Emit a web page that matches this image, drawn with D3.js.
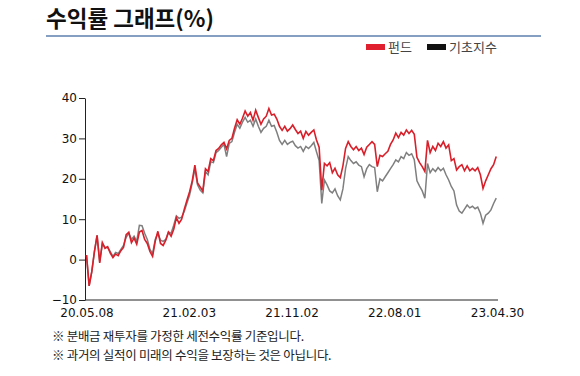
<!DOCTYPE html>
<html>
<head>
<meta charset="utf-8">
<script src="https://cdn.jsdelivr.net/npm/d3@7"></script>
<style>
  body { margin: 0; background: #fff; }
  text { font-family: "Noto Sans CJK KR", "Noto Sans", sans-serif; }
  .axis text { font-family: "DejaVu Sans", sans-serif; font-size: 12px; fill: #111; }
  .axis path, .axis line { stroke: #222; }
</style>
</head>
<body>
<script>
// 기준일 (주 단위 데이터)
var startDate = "2020-05-08";
var tickDates = ["2020-05-08", "2021-02-03", "2021-11-02", "2022-08-01", "2023-04-30"];
var yTicks = [-10, 0, 10, 20, 30, 40];

// 펀드 수익률 (%)
var fund = [
  1.1, -6.5, -3, 2, 6, -0.8, 4.2, 2.8, 3.2, 1.6,
  0.5, 1.4, 1.0, 2.2, 3.0, 6.2, 6.8, 4.2, 5.3, 3.8,
  6.8, 7.2, 5.0, 4.0, 2.0, 0.8, 4.5, 7.0, 4.0, 3.5,
  4.8, 6.8, 5.8, 7.5, 10.4, 9.0, 10.0, 12.5, 14.7, 16.8,
  19.5, 23.4, 19.0, 18.0, 17.0, 22.5, 21.8, 25.0, 24.5, 27.0,
  27.5, 28.4, 29.0, 27.4, 29.5, 30.0, 32.5, 34.6, 33.5, 35.0,
  36.8, 35.5, 36.4, 34.5, 37.0, 35.2, 33.5, 34.8, 35.5, 37.4,
  35.8, 36.0, 34.8, 33.0, 32.0, 33.0, 31.8, 32.4, 33.3, 32.2,
  31.2, 31.8, 30.0, 31.7, 30.8, 31.5, 32.1, 29.6, 27.8, 17.2,
  23.8, 23.2, 24.0, 21.5, 22.6, 21.0, 20.3, 23.2, 27.5, 29.2,
  28.0, 27.2, 28.0, 27.0, 27.6, 26.0, 27.8, 28.5, 29.2, 28.5,
  23.0, 25.8, 25.5, 26.2, 26.8, 28.5, 29.6, 31.3, 30.2, 31.5,
  30.8, 32.1, 31.2, 32.0, 31.0, 25.3, 24.0, 23.0, 21.8, 29.5,
  26.5, 28.0, 27.0, 28.8, 28.0, 29.2, 27.6, 28.4, 24.5, 25.0,
  22.2, 23.0, 23.5, 22.0, 23.2, 22.0, 22.6, 22.0, 22.8, 21.0,
  17.6, 19.5, 21.0, 22.5, 23.5, 25.5
];

// 기초지수 수익률 (%)
var bench = [
  1.1, -6.5, -3, 2, 6, -0.5, 4.0, 3.0, 3.0, 2.0,
  0.8, 1.8, 1.5, 2.5, 3.5, 5.5, 6.5, 5.0, 5.8, 4.5,
  8.5, 8.4, 6.5, 5.0, 2.5, 1.5, 5.0, 6.5, 4.8, 4.5,
  5.0, 6.8, 6.5, 8.5, 10.8, 10.2, 10.5, 12.0, 14.0, 16.0,
  19.0, 22.5, 18.5, 17.2, 16.5, 21.8, 21.0, 24.2, 24.0, 26.5,
  27.0, 27.8, 28.5, 25.5, 28.8, 29.2, 31.5, 33.5, 32.5, 34.0,
  35.2, 34.0, 34.5, 33.0, 34.8, 33.0, 31.5, 32.5, 33.0, 34.5,
  33.0, 33.2, 31.5, 29.5, 28.5, 29.5, 28.5, 29.0, 29.3, 28.2,
  27.6, 28.0, 26.8, 28.0, 27.5, 28.2, 29.0, 26.7, 24.5, 13.9,
  19.7, 18.5, 17.0, 16.5, 17.5, 15.8, 14.8, 17.5, 22.5, 25.5,
  24.5, 23.8, 24.2, 23.4, 23.0, 20.5, 22.5, 23.5, 23.0, 22.8,
  16.8, 20.0, 19.5, 20.5, 21.5, 22.5, 23.5, 24.7, 24.2, 25.5,
  25.0, 26.5, 25.8, 26.2, 24.7, 19.5, 18.2, 17.0, 15.2, 23.8,
  21.5, 22.5, 21.8, 22.8, 22.0, 22.6, 21.0, 19.7, 18.1, 17.0,
  13.5, 12.0, 11.5, 12.5, 13.5, 12.8, 13.2, 12.6, 13.0, 11.5,
  9.0, 11.0, 11.5, 12.3, 13.9, 15.2
];

var legendNames = ["펀드", "기초지수"];
var legendColors = ["#e0202e", "#111111"];
var notes = [
  "※  분배금 재투자를 가정한 세전수익률 기준입니다.",
  "※ 과거의 실적이 미래의 수익을 보장하는 것은 아닙니다."
];

var W = 580, H = 376;
var parseDate = d3.timeParse("%Y-%m-%d");
var t0 = parseDate(startDate);
var dates = fund.map(function(d, i) { return d3.timeDay.offset(t0, i * 7); });

var svg = d3.select("body").append("svg")
    .attr("width", W)
    .attr("height", H);

// 제목
svg.append("text")
    .attr("x", 46)
    .attr("y", 27)
    .style("font-size", "22.5px")
    .style("font-weight", "700")
    .attr("fill", "#111")
    .text("수익률 그래프(%)");

svg.append("line")
    .attr("x1", 46).attr("x2", 541)
    .attr("y1", 36).attr("y2", 36)
    .attr("stroke", "#5b7fae")
    .attr("stroke-width", 1.5);

// 범례
var legend = svg.append("g").attr("transform", "translate(366,44)");
var lx = [0, 61];
legendNames.forEach(function(name, i) {
    var g = legend.append("g").attr("transform", "translate(" + lx[i] + ",0)");
    g.append("rect").attr("width", 19).attr("height", 6).attr("fill", legendColors[i]);
    g.append("text").attr("x", 22).attr("y", 8)
        .style("font-size", "13px").attr("fill", "#444").text(name);
});

// 스케일
var x = d3.scaleTime()
    .domain([parseDate(tickDates[0]), parseDate(tickDates[tickDates.length - 1])])
    .range([86.5, 497]);
var y = d3.scaleLinear().domain([-10, 40]).range([300, 98]);

svg.append("g")
    .attr("class", "x axis")
    .attr("transform", "translate(0,300)")
    .call(d3.axisBottom(x)
        .tickValues(tickDates.map(parseDate))
        .tickFormat(d3.timeFormat("%y.%m.%d"))
        .tickSize(0).tickSizeOuter(0).tickPadding(8))
    .select(".domain").attr("d", "M85,0H498");

svg.append("g")
    .attr("class", "y axis")
    .attr("transform", "translate(85,0)")
    .call(d3.axisLeft(y).tickValues(yTicks).tickSize(6).tickSizeOuter(0).tickPadding(2));

var line = function(vals) {
    return d3.line()
        .x(function(d, i) { return x(dates[i]); })
        .y(function(d) { return y(d); })(vals);
};

svg.append("path")
    .attr("d", line(bench))
    .attr("fill", "none")
    .attr("stroke", "#7f7f7f")
    .attr("stroke-width", 1.5);

svg.append("path")
    .attr("d", line(fund))
    .attr("fill", "none")
    .attr("stroke", "#d81f2a")
    .attr("stroke-width", 1.6);

// 주석
notes.forEach(function(n, i) {
    svg.append("text")
        .attr("x", 52)
        .attr("y", 341 + i * 19)
        .style("font-size", "12.5px")
        .style("letter-spacing", "-0.3px")
        .attr("fill", "#222")
        .text(n);
});
</script>
</body>
</html>
